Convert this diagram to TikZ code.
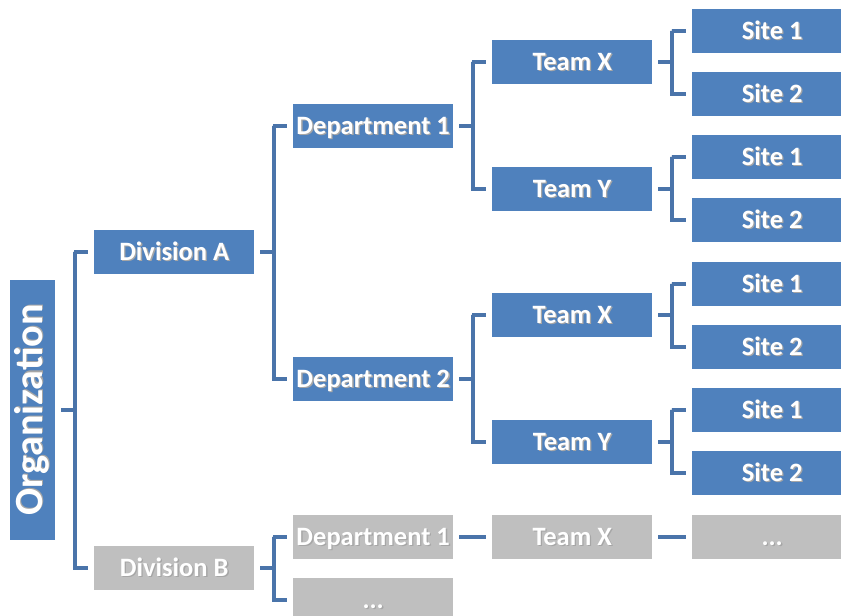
\documentclass[tikz,border=0pt]{standalone}
\usepackage{fontspec}
\setmainfont{Carlito}
\usetikzlibrary{positioning}
\definecolor{boxblue}{HTML}{4F81BD}
\definecolor{boxgray}{HTML}{BFBFBF}
\definecolor{linkblue}{HTML}{4A74AA}
% white label with a soft drop shadow
\newcommand\shtext[1]{\leavevmode\rlap{\kern1.3pt\raisebox{-1.3pt}{\color{black!35}#1}}#1}
\tikzset{
  unit/.style={minimum width=160pt, minimum height=44pt, inner sep=0pt,
    text height=19pt, text depth=3pt,
    text=white, font=\bfseries\fontsize{26.5}{28}\selectfont, anchor=west},
  bluebox/.style={unit, fill=boxblue},
  graybox/.style={unit, fill=boxgray},
  link/.style={draw=linkblue, line width=4pt, line cap=butt, line join=miter},
}
\begin{document}
\begin{tikzpicture}[x=1pt,y=-1pt]
\clip (0,0) rectangle (841,616);
\useasboundingbox (0,0) rectangle (841,616);
\fill[white] (0,0) rectangle (841,616);

% root
\node[fill=boxblue, minimum width=45pt, minimum height=260pt, inner sep=0pt] (org) at (32.5,410) {};
\node[rotate=90, text=white, font=\bfseries\fontsize{40}{42}\selectfont] (orgtxt) at (org.center) {\shtext{Organization}};

% divisions
\node[bluebox] (divA) at (94,252) {\shtext{Division A}};
\node[graybox] (divB) at (94,568) {\shtext{Division B}};

% departments
\node[bluebox] (d1) at (293,126) {\shtext{Department 1}};
\node[bluebox] (d2) at (293,379) {\shtext{Department 2}};
\node[graybox] (gd1) at (293,537) {\shtext{Department 1}};
\node[graybox] (gdx) at (293,600) {\shtext{...}};

% teams
\node[bluebox] (t1x) at (492,62) {\shtext{Team X}};
\node[bluebox] (t1y) at (492,189) {\shtext{Team Y}};
\node[bluebox] (t2x) at (492,315) {\shtext{Team X}};
\node[bluebox] (t2y) at (492,442) {\shtext{Team Y}};
\node[graybox] (gtx) at (492,537) {\shtext{Team X}};

% sites
\node[bluebox] (s1) at (692,31) {\shtext{Site 1}};
\node[bluebox] (s2) at (692,94) {\shtext{Site 2}};
\node[bluebox] (s3) at (692,157) {\shtext{Site 1}};
\node[bluebox] (s4) at (692,220) {\shtext{Site 2}};
\node[bluebox] (s5) at (692,284) {\shtext{Site 1}};
\node[bluebox] (s6) at (692,347) {\shtext{Site 2}};
\node[bluebox] (s7) at (692,410) {\shtext{Site 1}};
\node[bluebox] (s8) at (692,473) {\shtext{Site 2}};
\node[graybox] (gs) at (692,537) {\shtext{...}};

% bracket connectors: parent stub, vertical spine, child stubs
\newcommand\bracket[3]{%
  \draw[link] ([xshift=6pt]#1.east) -- ([xshift=20pt]#1.east);
  \draw[link] ([xshift=-20pt]#2.west) -| ([xshift=20pt]#1.east) |- ([xshift=-6pt]#3.west);
  \draw[link] ([xshift=-20pt]#2.west) -- ([xshift=-6pt]#2.west);
}
\bracket{org}{divA}{divB}
\bracket{divA}{d1}{d2}
\bracket{divB}{gd1}{gdx}
\bracket{d1}{t1x}{t1y}
\bracket{d2}{t2x}{t2y}
\bracket{t1x}{s1}{s2}
\bracket{t1y}{s3}{s4}
\bracket{t2x}{s5}{s6}
\bracket{t2y}{s7}{s8}

% straight links in the grey branch
\draw[link] ([xshift=6pt]gd1.east) -- ([xshift=-6pt]gtx.west);
\draw[link] ([xshift=6pt]gtx.east) -- ([xshift=-6pt]gs.west);
\end{tikzpicture}
\end{document}
